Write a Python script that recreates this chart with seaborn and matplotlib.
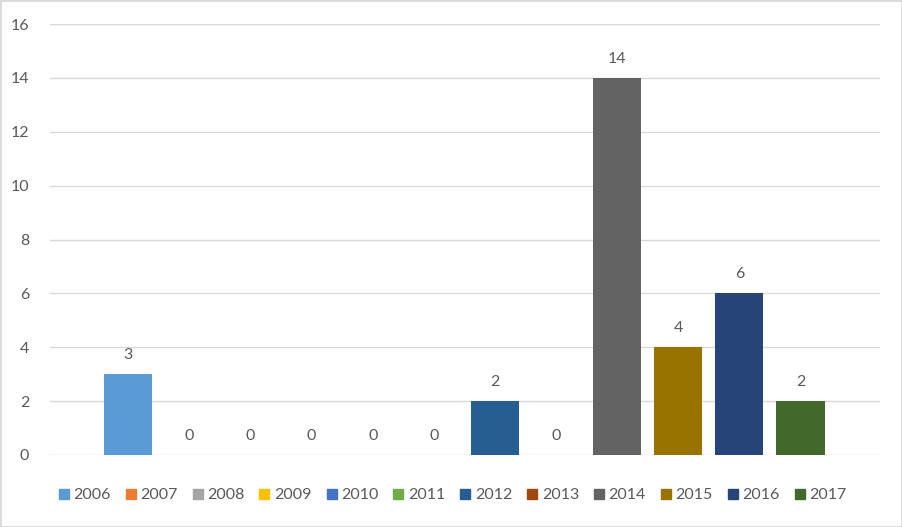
import pandas as pd
import matplotlib.pyplot as plt
import seaborn as sns
from matplotlib.lines import Line2D
from matplotlib.patches import Rectangle

# 데이터
years = ['2006', '2007', '2008', '2009', '2010', '2011',
         '2012', '2013', '2014', '2015', '2016', '2017']
counts = [3, 0, 0, 0, 0, 0, 2, 0, 14, 4, 6, 2]
colors = ['#5B9BD5', '#ED7D31', '#A5A5A5', '#FFC000', '#4472C4', '#70AD47',
          '#255E91', '#9E480E', '#636363', '#997300', '#264478', '#43682B']

df = pd.DataFrame({'year': years, 'count': counts})

sns.set_style('white')
plt.rcParams['font.family'] = ['Lato', 'DejaVu Sans']
text_color = '#595959'
fs = 11.5

fig = plt.figure(figsize=(9.02, 5.27), dpi=100)
ax = fig.add_axes([50 / 902, 1 - 455 / 527, 830 / 902, 431 / 527])

sns.barplot(data=df, x='year', y='count', hue='year', palette=colors,
            width=48 / 61, legend=False, ax=ax, saturation=1, linewidth=0)

# 막대 위 값 표시
for i, v in enumerate(counts):
    ax.text(i, v + 0.45, str(v), ha='center', va='bottom',
            fontsize=fs, color=text_color)

ax.set_ylim(0, 16)
ax.set_yticks(range(0, 17, 2))
ax.set_xlim(-1.28, 12.30)
ax.set_xticks([])
ax.set_xlabel('')
ax.set_ylabel('')
ax.yaxis.grid(True, color='#D9D9D9', linewidth=1)
ax.set_axisbelow(True)
for s in ax.spines.values():
    s.set_visible(False)
ax.tick_params(axis='y', length=0, pad=15, labelsize=fs, labelcolor=text_color)

# 범례
handles = [Line2D([], [], marker='s', linestyle='', markersize=7,
                  markerfacecolor=c, markeredgecolor=c) for c in colors]
fig.legend(handles, years, loc='center', bbox_to_anchor=(0.5, 1 - 495 / 527),
           ncol=12, frameon=False, fontsize=fs, labelcolor=text_color,
           handletextpad=0.1, columnspacing=0.75, handlelength=1.0)

# 테두리
fig.patches.append(Rectangle((0, 0), 1, 1, transform=fig.transFigure,
                             fill=False, edgecolor='#D9D9D9', linewidth=2))

fig.savefig('out.png', dpi=100)
